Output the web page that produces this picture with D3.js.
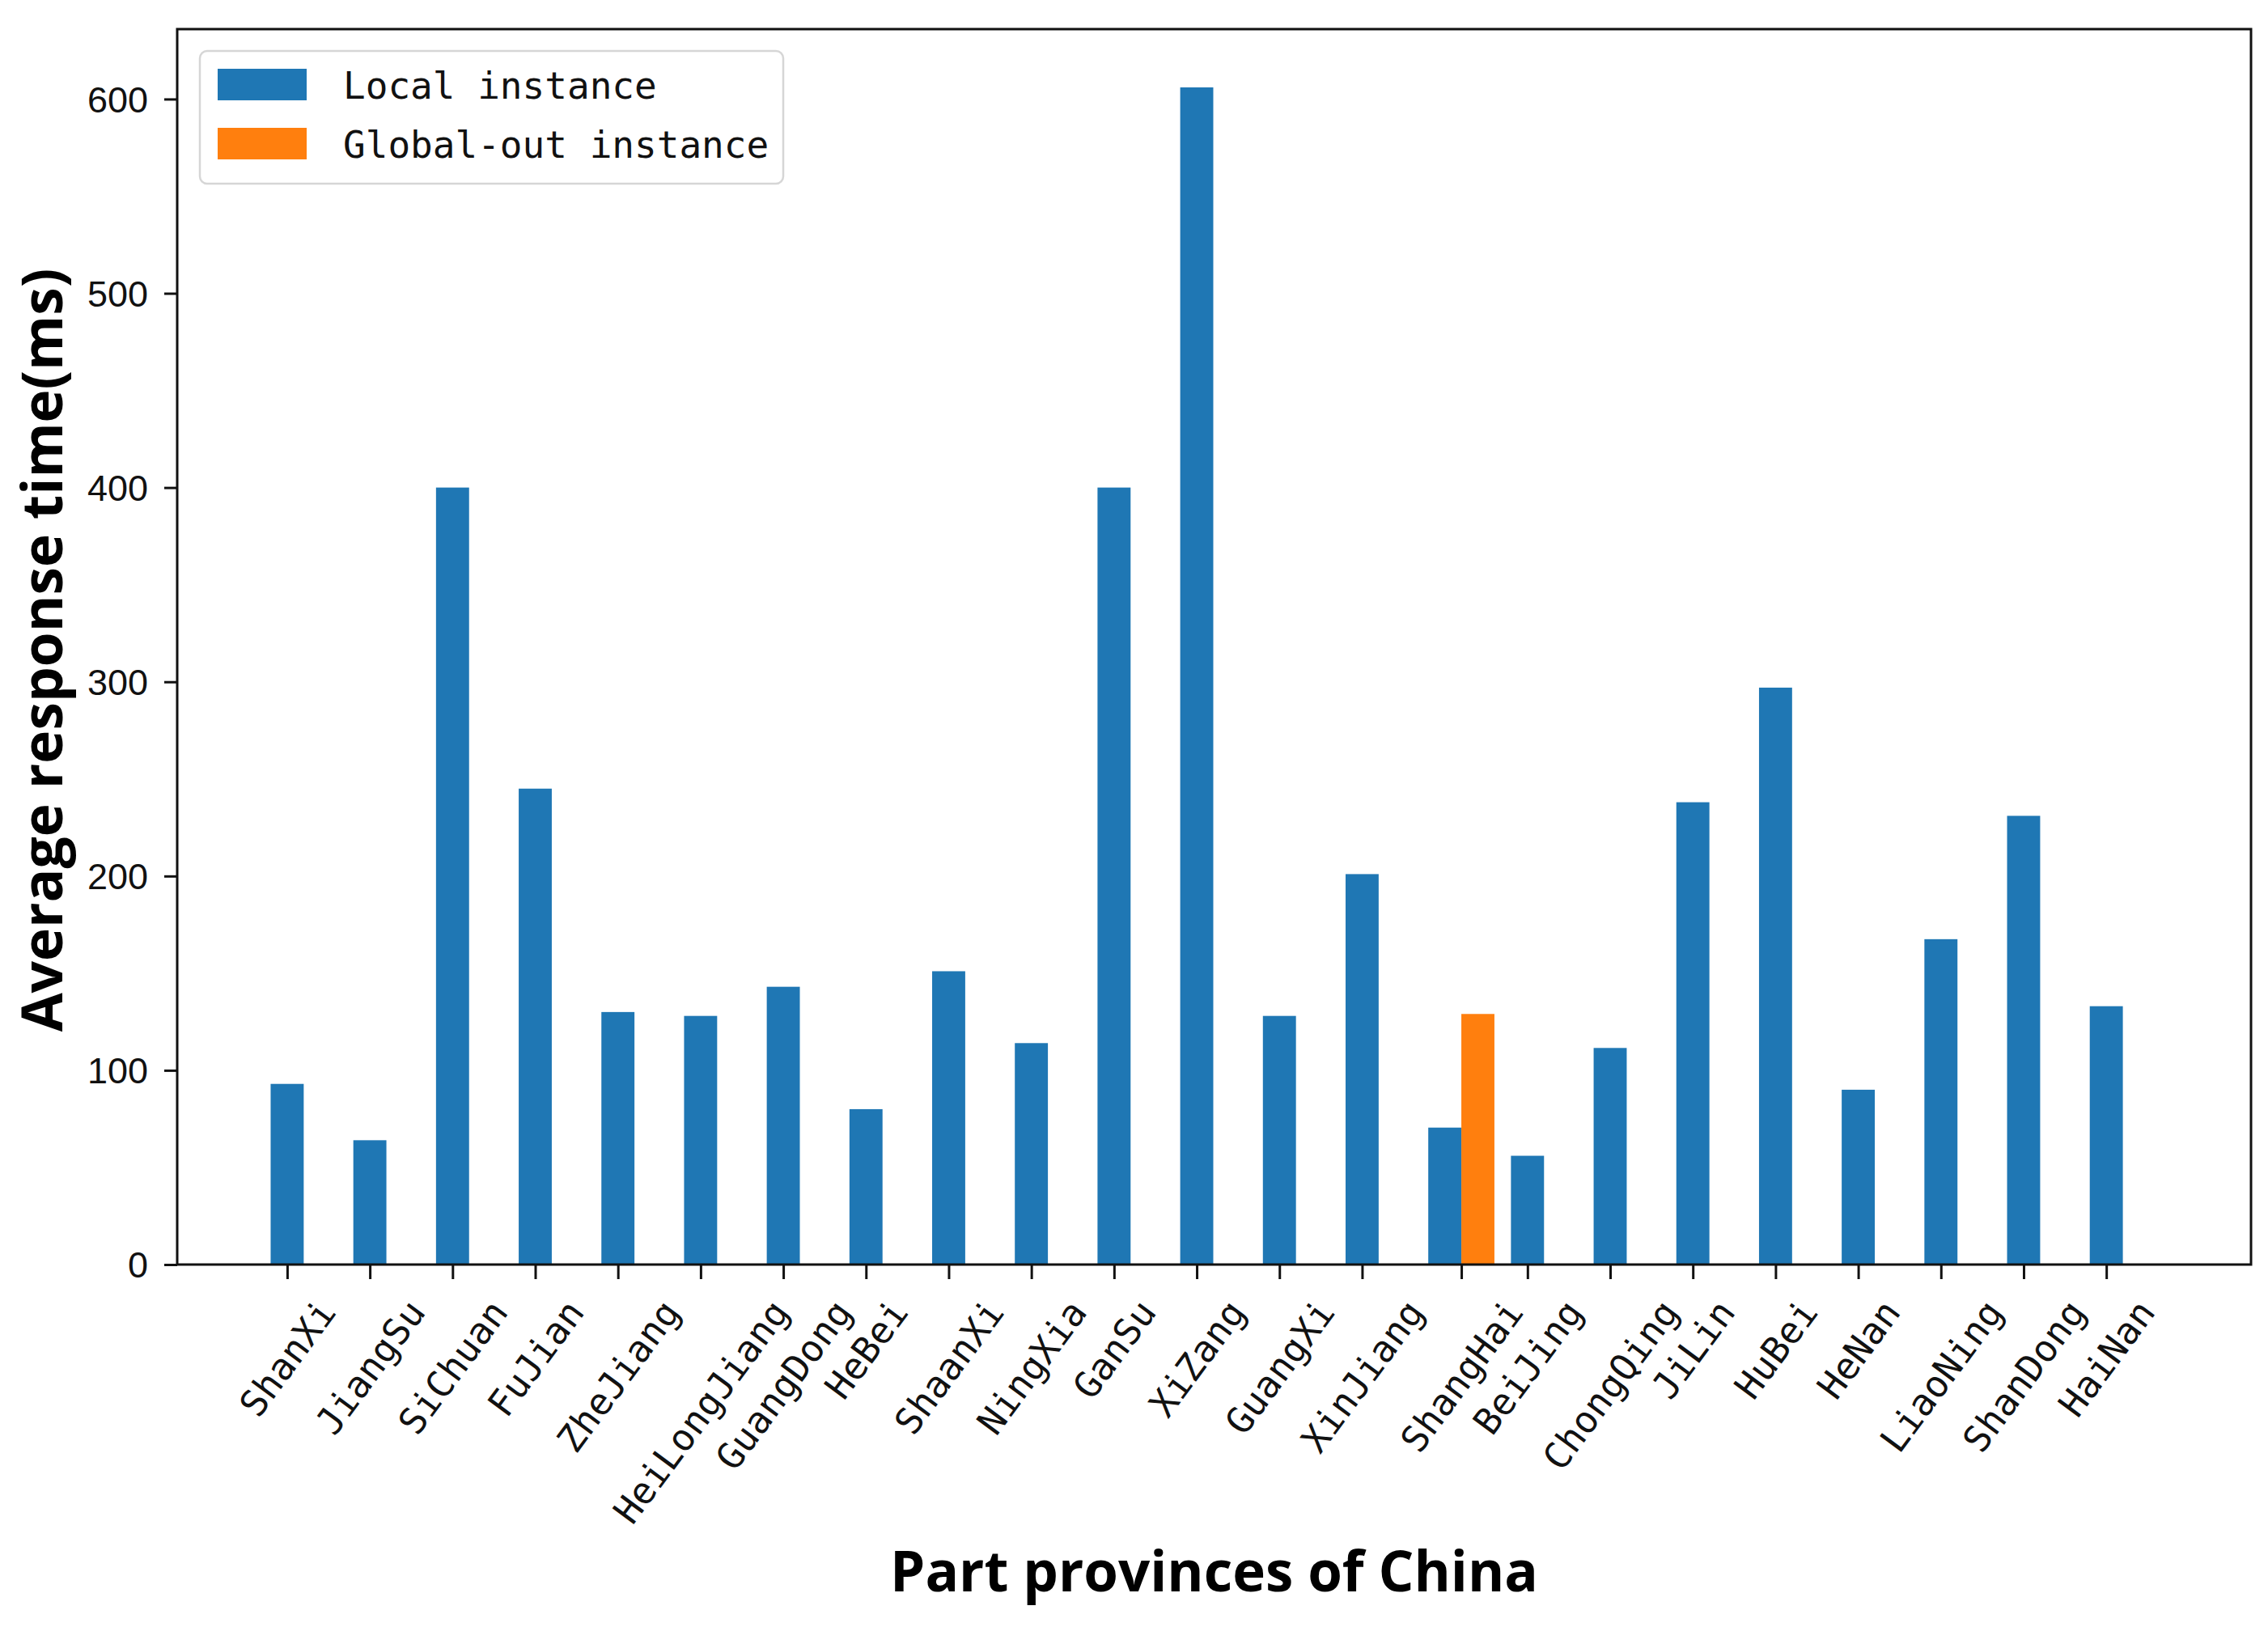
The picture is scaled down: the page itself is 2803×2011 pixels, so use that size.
<!DOCTYPE html>
<html>
<head>
<meta charset="utf-8">
<script src="https://cdn.jsdelivr.net/npm/d3@7"></script>
<style>
  html, body { margin: 0; padding: 0; background: #ffffff; }
  svg { display: block; }
</style>
</head>
<body>
<svg id="chart" width="2803" height="2011"></svg>
<script>
// ---------------- data ----------------
const provinces = ["ShanXi", "JiangSu", "SiChuan", "FuJian", "ZheJiang", "HeiLongJiang",
  "GuangDong", "HeBei", "ShaanXi", "NingXia", "GanSu", "XiZang", "GuangXi", "XinJiang",
  "ShangHai", "BeiJing", "ChongQing", "JiLin", "HuBei", "HeNan", "LiaoNing", "ShanDong", "HaiNan"];
const localValues = [93, 64, 400, 245, 130, 128, 143, 80, 151, 114, 400, 606, 128, 201,
  70.5, 56, 111.5, 238, 297, 90, 167.5, 231, 133];
const globalProvinces = ["ShangHai"];
const globalValues = [129];
const yTicks = [0, 100, 200, 300, 400, 500, 600];
const seriesNames = ["Local instance", "Global-out instance"];
const seriesColors = ["#1f77b4", "#ff7f0e"];
const xTitle = "Part provinces of China";
const yTitle = "Average response time(ms)";

// ---------------- layout ----------------
const plot = { left: 219, right: 2782, top: 36, bottom: 1563 };
const barWidth = 0.4;
const svg = d3.select("#chart");

const x = d3.scaleLinear().domain([-1.33, 23.75]).range([plot.left, plot.right]);
const y = d3.scaleLinear().domain([0, 636]).range([plot.bottom, plot.top]);

// bars: local
const localData = provinces.map((p, i) => ({ p, i, v: localValues[i] }));
svg.append("g").selectAll("rect").data(localData).join("rect")
  .attr("x", d => x(d.i - barWidth / 2))
  .attr("width", d => x(barWidth) - x(0))
  .attr("y", d => y(d.v))
  .attr("height", d => y(0) - y(d.v))
  .attr("fill", seriesColors[0]);

// bars: global-out
const globalData = globalProvinces.map((p, k) => ({ p, i: provinces.indexOf(p), v: globalValues[k] }));
svg.append("g").selectAll("rect").data(globalData).join("rect")
  .attr("x", d => x(d.i + barWidth - barWidth / 2))
  .attr("width", d => x(barWidth) - x(0))
  .attr("y", d => y(d.v))
  .attr("height", d => y(0) - y(d.v))
  .attr("fill", seriesColors[1]);

// axes frame
svg.append("rect")
  .attr("x", plot.left).attr("y", plot.top)
  .attr("width", plot.right - plot.left).attr("height", plot.bottom - plot.top)
  .attr("fill", "none").attr("stroke", "#111").attr("stroke-width", 3);

// y axis
const yAxis = d3.axisLeft(y).tickValues(yTicks).tickSize(16).tickPadding(20).tickFormat(d3.format("d"));
const gy = svg.append("g").attr("transform", `translate(${plot.left},0)`).call(yAxis);
gy.select(".domain").remove();
gy.selectAll(".tick line").attr("stroke", "#111").attr("stroke-width", 3);
gy.selectAll(".tick text")
  .attr("font-family", "'Liberation Sans', Arial, sans-serif")
  .attr("font-size", 45).attr("fill", "#111").attr("dy", "0.35em");

// x axis
const tickPos = provinces.map((p, i) => globalProvinces.includes(p) ? i + barWidth / 2 : i);
const xAxis = d3.axisBottom(x).tickValues(tickPos).tickSize(18).tickFormat((d, i) => provinces[i]);
const gx = svg.append("g").attr("transform", `translate(0,${plot.bottom})`).call(xAxis);
gx.select(".domain").remove();
gx.selectAll(".tick line").attr("stroke", "#111").attr("stroke-width", 3);
const angle = 53.5;
const rad = angle * Math.PI / 180;
const labelFont = 45.5;
gx.selectAll(".tick text")
  .attr("font-family", "'DejaVu Sans Mono', 'Liberation Mono', monospace")
  .attr("font-size", labelFont).attr("fill", "#111")
  .attr("text-anchor", "end")
  .attr("y", 0).attr("dy", "0.35em")
  .each(function () {
    const L = this.getComputedTextLength();
    const h = labelFont * 1.17;
    const tx = L * Math.cos(rad) / 2;
    const ty = 34 + (h / 2) * Math.cos(rad);
    d3.select(this).attr("transform", `translate(${tx},${ty}) rotate(${-angle})`);
  });

// axis titles
const xt = svg.append("text")
  .attr("x", (plot.left + plot.right) / 2).attr("y", 1967)
  .attr("text-anchor", "middle")
  .attr("font-family", "'Open Sans', 'Noto Sans', sans-serif")
  .attr("font-weight", "bold").attr("font-size", 70).attr("fill", "#000")
  .text(xTitle);
{
  const w = xt.node().getComputedTextLength();
  xt.attr("font-size", 70 * 801 / w);
}
const yt = svg.append("text")
  .attr("transform", `translate(77,${(plot.top + plot.bottom) / 2 + 4}) rotate(-90)`)
  .attr("text-anchor", "middle")
  .attr("font-family", "'Open Sans', 'Noto Sans', sans-serif")
  .attr("font-weight", "bold").attr("font-size", 70).attr("fill", "#000")
  .text(yTitle);
{
  const w = yt.node().getComputedTextLength();
  yt.attr("font-size", 70 * 944 / w);
}

// legend
const lg = svg.append("g");
lg.append("rect")
  .attr("x", 247).attr("y", 63).attr("width", 721).attr("height", 164)
  .attr("rx", 9).attr("ry", 9)
  .attr("fill", "#fff").attr("fill-opacity", 0.85)
  .attr("stroke", "#d6d6d6").attr("stroke-width", 2.5);
const legendRows = seriesNames.map((name, k) => ({ name, color: seriesColors[k], k }));
const rows = lg.selectAll("g.row").data(legendRows).join("g").attr("class", "row")
  .attr("transform", d => `translate(0,${d.k * 73})`);
rows.append("rect")
  .attr("x", 269).attr("y", 85).attr("width", 110).attr("height", 39)
  .attr("fill", d => d.color);
rows.append("text")
  .attr("x", 424).attr("y", 122)
  .attr("font-family", "'DejaVu Sans Mono', 'Liberation Mono', monospace")
  .attr("font-size", 46).attr("fill", "#111")
  .text(d => d.name);
</script>
</body>
</html>
